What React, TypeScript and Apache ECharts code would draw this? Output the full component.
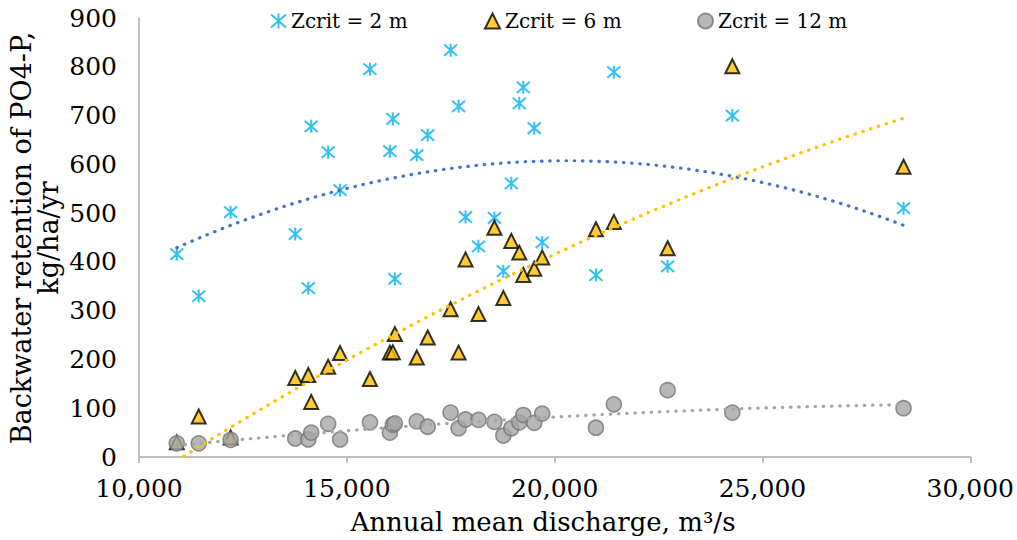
import React, { useEffect, useRef } from "react";
import * as echarts from "echarts";

// Annual mean discharge, m3/s
const discharge = [
  10910, 11437, 12204, 13760, 14072, 14144, 14551, 14838, 15557, 16036,
  16108, 16156, 16683, 16946, 17497, 17689, 17856, 18168, 18551, 18766,
  18958, 19150, 19246, 19509, 19701, 20994, 21425, 22719, 24275, 28395,
];
// Backwater retention of PO4-P, kg/ha/yr
const zcrit2 = [
  416, 330, 502, 457, 346, 678, 625, 547, 795, 627,
  693, 365, 619, 660, 834, 719, 492, 432, 490, 381,
  561, 725, 758, 674, 440, 373, 789, 391, 700, 510,
];
const zcrit6 = [
  30, 83, 40, 162, 168, 113, 185, 213, 160, 214,
  215, 252, 204, 245, 303, 214, 405, 293, 470, 326,
  443, 419, 373, 386, 409, 467, 482, 428, 801, 595,
];
const zcrit12 = [
  28, 28, 35, 38, 36, 50, 68, 36, 71, 50,
  66, 69, 73, 62, 91, 59, 77, 76, 72, 44,
  59, 71, 86, 70, 89, 60, 108, 137, 91, 100,
];
const seriesNames = ["Zcrit = 2 m", "Zcrit = 6 m", "Zcrit = 12 m"];

const FONT = "DejaVu Serif";
const ASTERISK = "path://M6,0L6,12M0,0.8L12,11.2M0,11.2L12,0.8";

// Least-squares polynomial (order 2) trendline, as in the spreadsheet
function quadTrend(xs: number[], ys: number[], n = 200): number[][] {
  const S = [0, 0, 0, 0, 0];
  const T = [0, 0, 0];
  for (let i = 0; i < xs.length; i++) {
    const x = xs[i] / 1000;
    let p = 1;
    for (let k = 0; k < 5; k++) {
      S[k] += p;
      p *= x;
    }
    T[0] += ys[i];
    T[1] += ys[i] * x;
    T[2] += ys[i] * x * x;
  }
  const M = [
    [S[0], S[1], S[2], T[0]],
    [S[1], S[2], S[3], T[1]],
    [S[2], S[3], S[4], T[2]],
  ];
  for (let c = 0; c < 3; c++) {
    for (let r = c + 1; r < 3; r++) {
      const f = M[r][c] / M[c][c];
      for (let k = c; k < 4; k++) M[r][k] -= f * M[c][k];
    }
  }
  const b = [0, 0, 0];
  for (let r = 2; r >= 0; r--) {
    let s = M[r][3];
    for (let k = r + 1; k < 3; k++) s -= M[r][k] * b[k];
    b[r] = s / M[r][r];
  }
  const lo = Math.min(...xs);
  const hi = Math.max(...xs);
  const out: number[][] = [];
  for (let i = 0; i <= n; i++) {
    const xv = lo + ((hi - lo) * i) / n;
    const x = xv / 1000;
    out.push([xv, b[0] + b[1] * x + b[2] * x * x]);
  }
  return out;
}

const pairs = (ys: number[]) => discharge.map((x, i) => [x, ys[i]]);

export default function App() {
  const ref = useRef<HTMLDivElement>(null);
  useEffect(() => {
    document.body.style.margin = "0";
    const chart = echarts.init(ref.current!, null, { renderer: "svg" });
    const dotted = (color: string) => ({
      color,
      width: 3.2,
      type: [0.5, 7.7] as number[],
      cap: "round" as const,
    });
    const legendBase = {
      top: 6,
      itemWidth: 15,
      itemHeight: 15,
      textStyle: { fontFamily: FONT, fontSize: 20, color: "#000" },
      selectedMode: false,
    };
    const yTitle = (text: string, x: number) => ({
      type: "text",
      x,
      y: 238,
      rotation: Math.PI / 2,
      style: {
        text,
        fontFamily: FONT,
        fontSize: 27,
        fill: "#000",
        align: "center",
        verticalAlign: "middle",
      },
    });
    chart.setOption({
      animation: false,
      backgroundColor: "#fff",
      grid: { left: 139, right: 43, top: 18, bottom: 83 },
      legend: [
        { ...legendBase, left: 265, data: [seriesNames[0]] },
        { ...legendBase, left: 479, data: [seriesNames[1]] },
        { ...legendBase, left: 692, data: [seriesNames[2]] },
      ],
      xAxis: {
        type: "value",
        min: 10000,
        max: 30000,
        interval: 5000,
        splitLine: { show: false },
        axisLine: { show: true, lineStyle: { color: "#bfbfbf", width: 2 } },
        axisTick: { show: true, length: 6, lineStyle: { color: "#bfbfbf", width: 2 } },
        axisLabel: {
          margin: 19,
          fontFamily: FONT,
          fontSize: 25,
          color: "#000",
          formatter: (v: number) => v.toLocaleString("en-US"),
        },
      },
      yAxis: {
        type: "value",
        min: 0,
        max: 900,
        interval: 100,
        splitLine: { show: false },
        axisLine: { show: true, lineStyle: { color: "#bfbfbf", width: 2 } },
        axisTick: { show: false },
        axisLabel: { margin: 22, fontFamily: FONT, fontSize: 25, color: "#000" },
      },
      graphic: [
        {
          type: "text",
          x: 543,
          y: 522,
          style: {
            text: "Annual mean discharge, m³/s",
            fontFamily: FONT,
            fontSize: 26,
            fill: "#000",
            align: "center",
            verticalAlign: "middle",
          },
        },
        yTitle("Backwater retention of PO4-P,", 21),
        yTitle("kg/ha/yr", 48),
      ],
      series: [
        {
          name: seriesNames[0],
          type: "scatter",
          symbol: ASTERISK,
          symbolSize: 13,
          data: pairs(zcrit2),
          itemStyle: { color: "#00b0f0", borderColor: "#00b0f0", borderWidth: 2 },
          z: 2,
        },
        {
          name: seriesNames[1],
          type: "scatter",
          symbol: "triangle",
          symbolSize: 14,
          data: pairs(zcrit6),
          itemStyle: { color: "#ffc000", borderColor: "#000", borderWidth: 2 },
          z: 3,
        },
        {
          name: seriesNames[2],
          type: "scatter",
          symbol: "circle",
          symbolSize: 15,
          data: pairs(zcrit12),
          itemStyle: { color: "#a5a5a5", borderColor: "#767676", borderWidth: 1.6 },
          z: 4,
        },
        {
          name: "trend2",
          type: "line",
          data: quadTrend(discharge, zcrit2),
          showSymbol: false,
          silent: true,
          lineStyle: dotted("#4472c4"),
          z: 5,
        },
        {
          name: "trend6",
          type: "line",
          data: quadTrend(discharge, zcrit6),
          showSymbol: false,
          silent: true,
          lineStyle: dotted("#ffc000"),
          z: 5,
        },
        {
          name: "trend12",
          type: "line",
          data: quadTrend(discharge, zcrit12),
          showSymbol: false,
          silent: true,
          lineStyle: dotted("#a5a5a5"),
          z: 5,
        },
      ],
    });
    return () => chart.dispose();
  }, []);
  return <div ref={ref} style={{ width: 1017, height: 540 }} />;
}
